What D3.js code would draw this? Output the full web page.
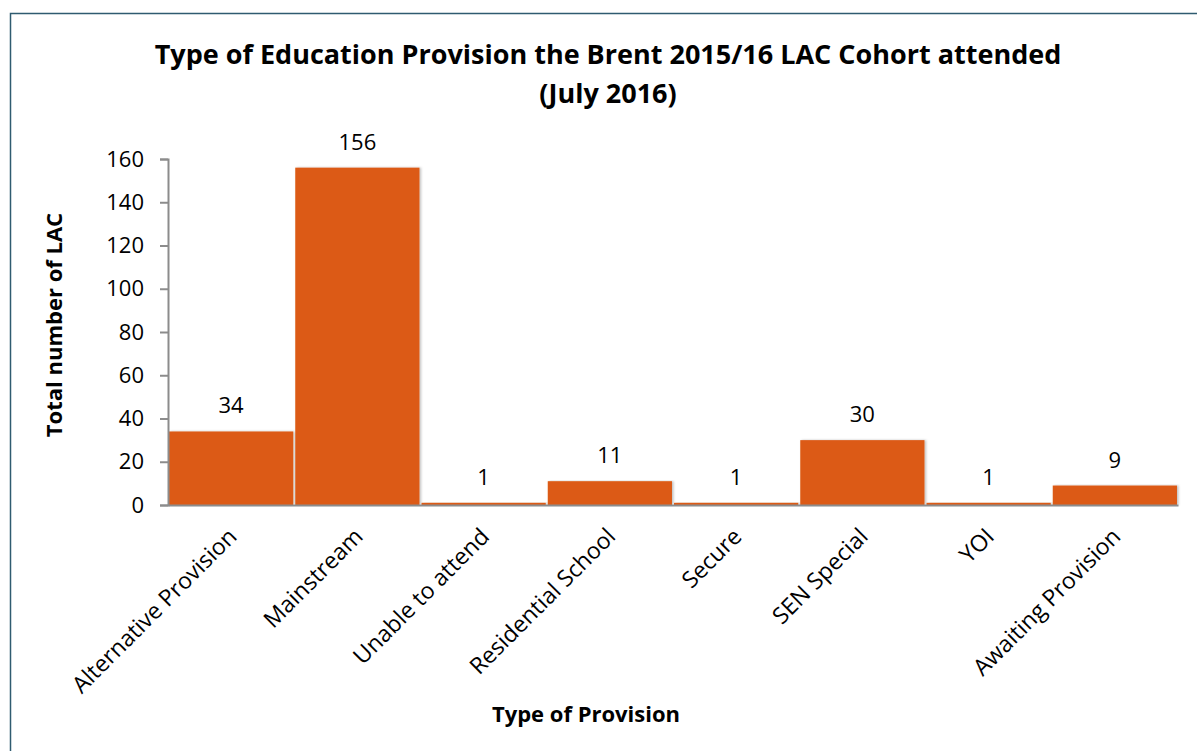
<!DOCTYPE html>
<html>
<head>
<meta charset="utf-8">
<script src="https://cdn.jsdelivr.net/npm/d3@7"></script>
<style>
  html, body { margin: 0; padding: 0; background: #fff; }
  svg { display: block; font-family: "Open Sans", "Noto Sans", sans-serif; }
</style>
</head>
<body>
<svg id="chart" width="1197" height="751"></svg>
<script>
// Education provision of the Brent 2015/16 LAC cohort (July 2016)
const categories = [
  "Alternative Provision", "Mainstream", "Unable to attend", "Residential School",
  "Secure", "SEN Special", "YOI", "Awaiting Provision"
];
const counts = [34, 156, 1, 11, 1, 30, 1, 9];
const yTicks = [0, 20, 40, 60, 80, 100, 120, 140, 160];
const titleLines = ["Type of Education Provision the Brent 2015/16 LAC Cohort attended", "(July 2016)"];
const xTitle = "Type of Provision";
const yTitle = "Total number of LAC";

const svg = d3.select("#chart");
const W = 1197, H = 751;

// outer frame
svg.append("rect")
  .attr("x", 10.5).attr("y", 13.5)
  .attr("width", W + 20).attr("height", H + 20)
  .attr("fill", "#fff").attr("stroke", "#2F5B70").attr("stroke-width", 1.5);

const plot = { left: 168, right: 1178, top: 159, bottom: 505 };

const x = d3.scaleBand()
  .domain(categories)
  .range([plot.left, plot.right])
  .paddingInner(0.016)
  .paddingOuter(0.008);

const y = d3.scaleLinear()
  .domain([0, 160])
  .range([plot.bottom, plot.top]);

// soft shadow on bars
const defs = svg.append("defs");
const f = defs.append("filter").attr("id", "barShadow")
  .attr("x", "-5%").attr("y", "-5%").attr("width", "115%").attr("height", "115%");
f.append("feDropShadow").attr("dx", 1.5).attr("dy", 0).attr("stdDeviation", 1)
  .attr("flood-color", "#000").attr("flood-opacity", 0.25);

// title
svg.append("g").selectAll("text")
  .data(titleLines)
  .join("text")
  .attr("x", 608)
  .attr("y", (d, i) => 64 + i * 39)
  .attr("text-anchor", "middle")
  .attr("font-size", 27)
  .attr("font-weight", 700)
  .attr("fill", "#000")
  .text(d => d);

// bars
svg.append("g").selectAll("rect")
  .data(counts)
  .join("rect")
  .attr("x", (d, i) => x(categories[i]))
  .attr("y", d => y(d))
  .attr("width", x.bandwidth())
  .attr("height", d => y(0) - y(d))
  .attr("fill", "#DC5A15")
  .attr("filter", "url(#barShadow)");

// value labels
svg.append("g").selectAll("text")
  .data(counts)
  .join("text")
  .attr("x", (d, i) => x(categories[i]) + x.bandwidth() / 2)
  .attr("y", d => y(d) - 18)
  .attr("text-anchor", "middle")
  .attr("font-size", 22)
  .attr("fill", "#000")
  .text(d => d);

// y axis
const yAxis = svg.append("g")
  .attr("transform", `translate(${plot.left},0)`)
  .call(d3.axisLeft(y).tickValues(yTicks).tickSize(8).tickPadding(16));
yAxis.select(".domain").attr("stroke", "#8C8C8C").attr("stroke-width", 2);
yAxis.selectAll(".tick line").attr("stroke", "#8C8C8C").attr("stroke-width", 2);
yAxis.selectAll(".tick text")
  .attr("font-size", 22).attr("fill", "#000")
  .attr("font-family", "'Open Sans', sans-serif");

// x axis
const xAxis = svg.append("g")
  .attr("transform", `translate(0,${plot.bottom})`)
  .call(d3.axisBottom(x).tickSize(0).tickPadding(0).tickSizeOuter(0));
xAxis.select(".domain").attr("stroke", "#8C8C8C").attr("stroke-width", 2);
xAxis.selectAll(".tick text")
  .attr("font-size", 23).attr("fill", "#000")
  .attr("font-family", "'Open Sans', sans-serif")
  .attr("text-anchor", "end")
  .attr("dy", 0)
  .attr("transform", "translate(7,33) rotate(-45)");

// axis titles
svg.append("text")
  .attr("x", 586).attr("y", 722)
  .attr("text-anchor", "middle")
  .attr("font-size", 22).attr("font-weight", 700)
  .text(xTitle);

svg.append("text")
  .attr("transform", "translate(62,325) rotate(-90)")
  .attr("text-anchor", "middle")
  .attr("font-size", 22).attr("font-weight", 700)
  .text(yTitle);
</script>
</body>
</html>
